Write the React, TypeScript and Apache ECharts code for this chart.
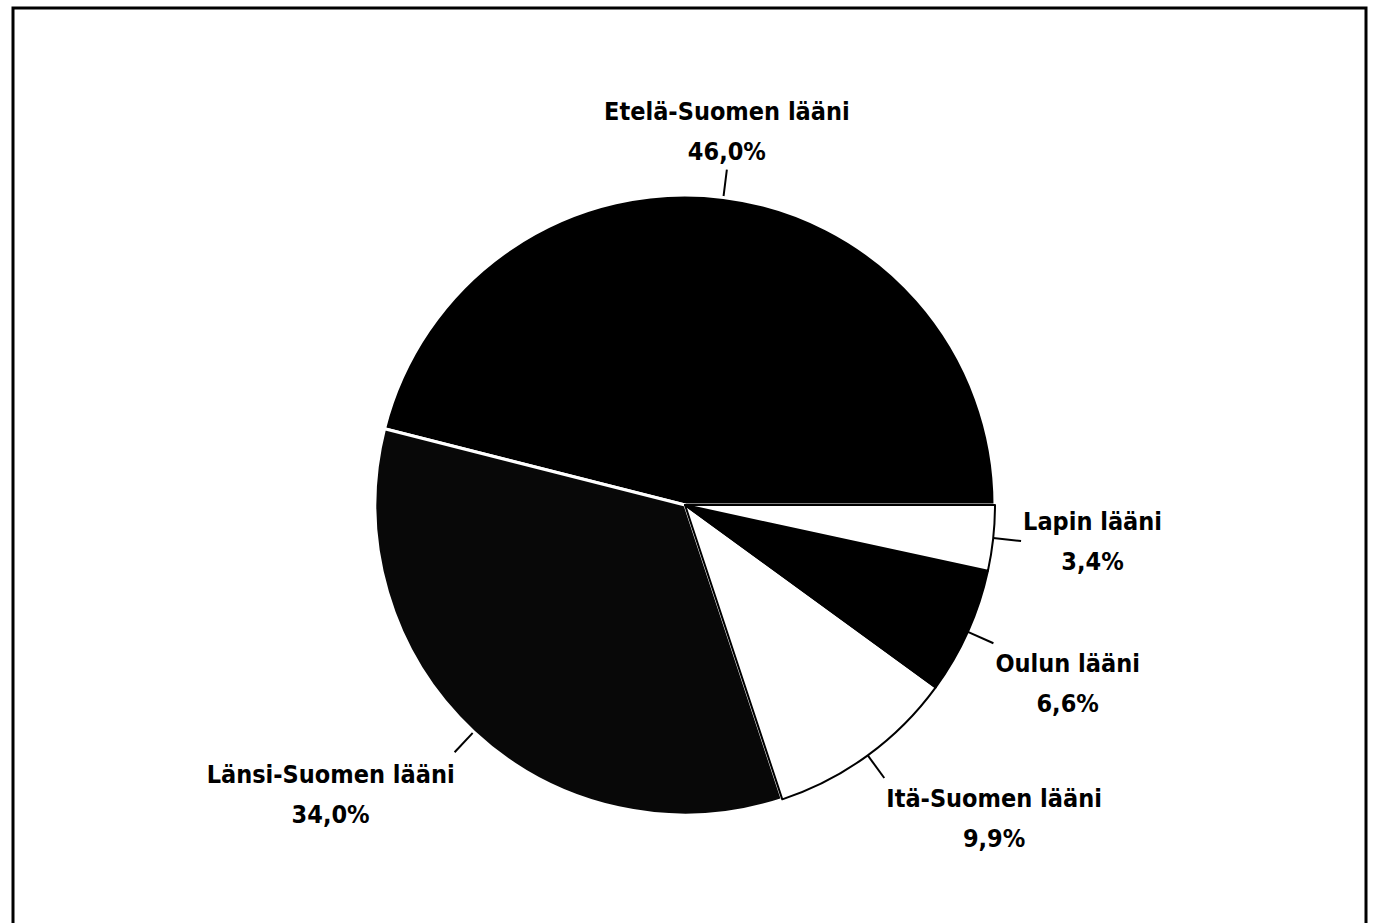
import React, { useEffect, useRef } from "react";
import * as echarts from "echarts";

const regions = ["Etelä-Suomen lääni", "Länsi-Suomen lääni", "Itä-Suomen lääni", "Oulun lääni", "Lapin lääni"];
const shares = [46.0, 34.0, 9.9, 6.6, 3.4];
const shareLabels = ["46,0%", "34,0%", "9,9%", "6,6%", "3,4%"];
const fills = ["#000000", "#080808", "#ffffff", "#000000", "#ffffff"];
const borders = ["#ffffff", "#ffffff", "#000000", "#000000", "#000000"];
// label block placement relative to the end of each label line
const placements = ["above", "belowLeft", "belowRight", "belowRight", "right"];

export default function App() {
  const ref = useRef<HTMLDivElement>(null);
  useEffect(() => {
    if (!ref.current) return;
    const chart = echarts.init(ref.current, undefined, { renderer: "svg" });
    const data = regions.map((name, i) => ({
      name,
      value: shares[i],
      itemStyle: { color: fills[i], borderColor: borders[i], borderWidth: i < 2 ? 3 : 2 },
    }));
    chart.setOption({
      animation: false,
      backgroundColor: "#ffffff",
      graphic: [
        {
          type: "rect",
          shape: { x: 13, y: 8, width: 1353, height: 940 },
          style: { fill: "none", stroke: "#000", lineWidth: 3 },
          silent: true,
        },
      ],
      series: [
        {
          type: "pie",
          center: [685, 505],
          radius: 310,
          startAngle: 0,
          clockwise: false,
          data,
          label: {
            show: true,
            position: "outside",
            formatter: (p: any) => `${p.name}\n${shareLabels[p.dataIndex]}`,
            fontFamily: "'DejaVu Sans Condensed', 'Liberation Sans Narrow', sans-serif",
            fontWeight: "bold",
            fontSize: 25,
            lineHeight: 40,
            color: "#000",
            align: "center",
          },
          labelLine: {
            show: true,
            length: 28,
            length2: 0,
            smooth: false,
            lineStyle: { color: "#000", width: 2 },
          },
          labelLayout: (params: any) => {
            const pts = params.labelLinePoints;
            if (!pts) return {};
            const end = pts[pts.length - 1];
            const w = params.labelRect.width;
            const h = params.labelRect.height;
            const kind = placements[params.dataIndex];
            let x = end[0];
            let y = end[1];
            if (kind === "above") {
              y = end[1] + 2 - h / 2;
            } else if (kind === "right") {
              x = end[0] + 2 + w / 2;
            } else if (kind === "belowRight") {
              x = end[0] + 2 + w / 2;
              y = end[1] + h / 2;
            } else if (kind === "belowLeft") {
              x = end[0] - w / 2;
              y = end[1] + 2 + h / 2;
            }
            return {
              x,
              y,
              align: "center",
              verticalAlign: "middle",
              labelLinePoints: pts,
            };
          },
        },
      ],
    });
    return () => chart.dispose();
  }, []);
  return (
    <div
      ref={ref}
      style={{ position: "fixed", left: 0, top: 0, width: 1374, height: 923, background: "#fff" }}
    />
  );
}
